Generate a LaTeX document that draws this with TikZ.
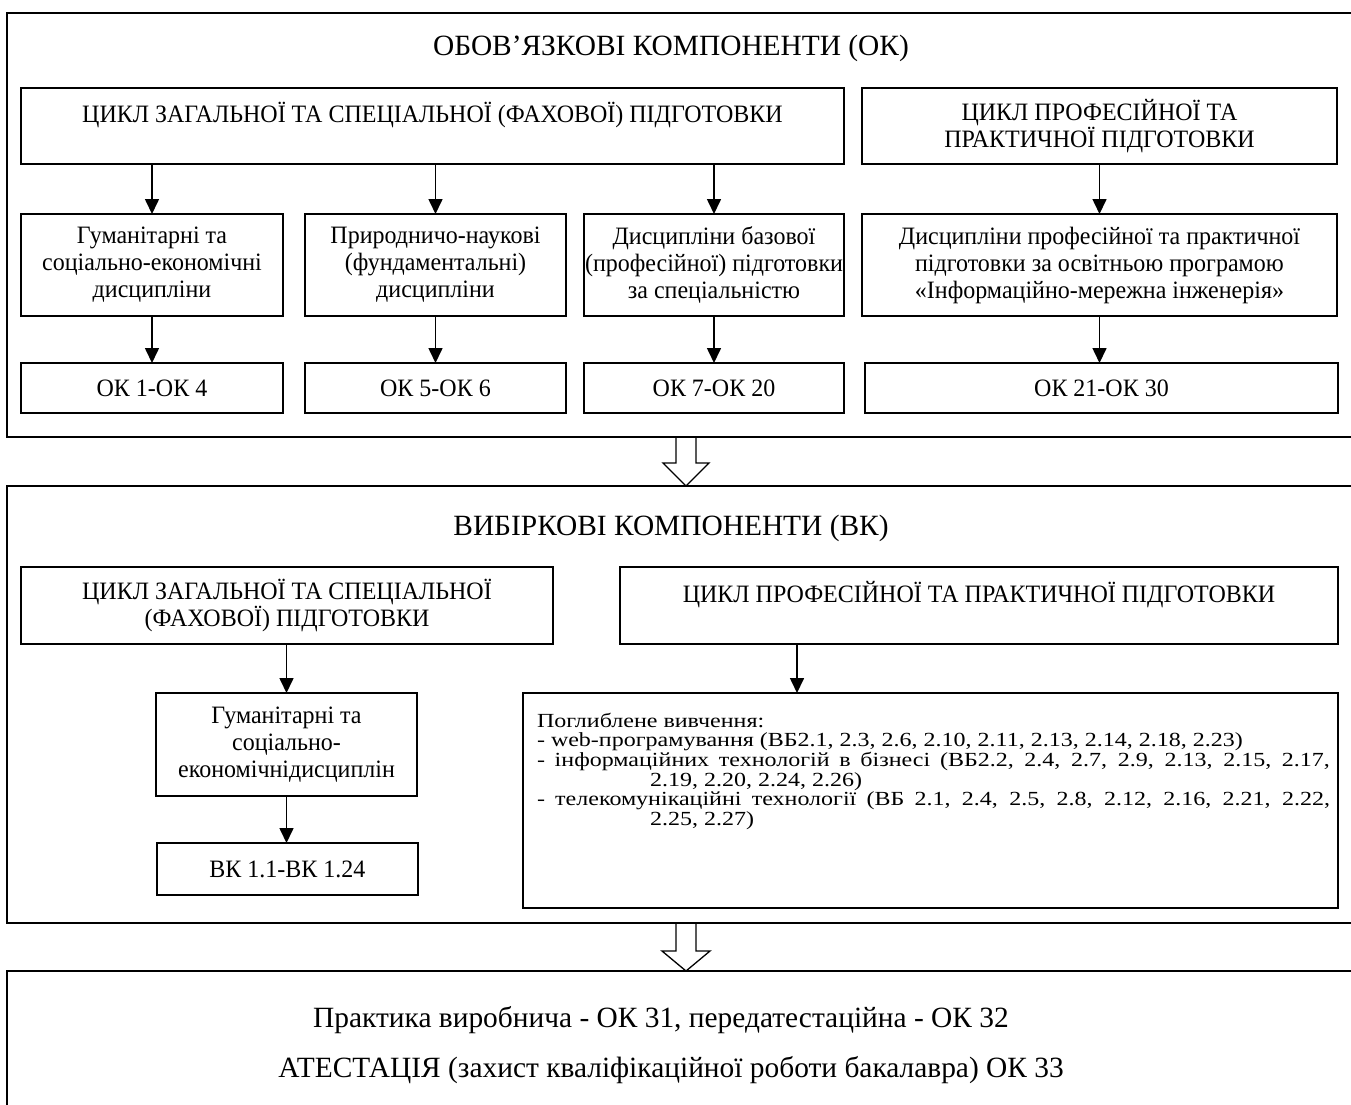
\documentclass[tikz,border=0pt]{standalone}
\usepackage{fontspec}
\setmainfont{Liberation Serif}[FakeStretch=0.96]
\newfontfamily\headfont{Liberation Serif}
\newfontfamily\listfont{Liberation Serif}[FakeStretch=1.2]
\usetikzlibrary{arrows.meta}

\newcommand{\bodysize}{\fontsize{25}{27}\selectfont}
\newcommand{\headsize}{\headfont\fontsize{29.4}{33}\selectfont}
\newcommand{\listsize}{\listfont\fontsize{20}{19.6}\selectfont}

\begin{document}
\begin{tikzpicture}[x=1pt, y=-1pt,
    every node/.style={inner sep=0pt, outer sep=0pt},
    frame/.style={draw, line width=1.5pt},
    box/.style={draw, line width=1.5pt, align=center, font=\bodysize},
    head/.style={font=\headsize, anchor=base},
    arr/.style={line width=1.6pt, -{Triangle[length=15pt, width=14pt]}},
    hollow/.style={draw, line width=1.3pt}]
  \clip (0,0) rectangle (1351,1104);
  % obligatory part
  \node[frame, minimum width=1360pt, minimum height=424pt] (ok) at (687,225) {};
  \node[head] (okt) at (671,55) {ОБОВ’ЯЗКОВІ КОМПОНЕНТИ (ОК)};
  \node[box, minimum width=823pt, minimum height=76pt] (okzag) at (432.5,126) {ЦИКЛ ЗАГАЛЬНОЇ ТА СПЕЦІАЛЬНОЇ (ФАХОВОЇ) ПІДГОТОВКИ\\~};
  \node[box, minimum width=475pt, minimum height=76pt] (okprof) at (1099.5,126) {ЦИКЛ ПРОФЕСІЙНОЇ ТА\\ПРАКТИЧНОЇ ПІДГОТОВКИ};
  \node[box, minimum width=262pt, minimum height=102pt] (hum) at (152,265) {Гуманітарні та\\соціально-економічні\\дисципліни};
  \node[box, minimum width=261pt, minimum height=102pt] (nat) at (435.5,265) {Природничо-наукові\\(фундаментальні)\\дисципліни};
  \node[box, minimum width=260pt, minimum height=102pt] (baz) at (714,265) {Дисципліни базової\\(професійної) підготовки\\за спеціальністю};
  \node[box, minimum width=475pt, minimum height=102pt] (prof) at (1099.5,265) {Дисципліни професійної та практичної\\підготовки за освітньою програмою\\«Інформаційно-мережна інженерія»};
  \node[box, minimum width=262pt, minimum height=50pt] (ok1) at (152,388) {ОК 1-ОК 4};
  \node[box, minimum width=261pt, minimum height=50pt] (ok5) at (435.5,388) {ОК 5-ОК 6};
  \node[box, minimum width=260pt, minimum height=50pt] (ok7) at (714,388) {ОК 7-ОК 20};
  \node[box, minimum width=473pt, minimum height=50pt] (ok21) at (1101.5,388) {ОК 21-ОК 30};
  \draw[arr] (okzag.south -| hum.north) -- (hum.north);
  \draw[arr] (okzag.south -| nat.north) -- (nat.north);
  \draw[arr] (okzag.south -| baz.north) -- (baz.north);
  \draw[arr] (okprof.south) -- (okprof.south |- prof.north);
  \draw[arr] (hum.south) -- (ok1.north);
  \draw[arr] (nat.south) -- (ok5.north);
  \draw[arr] (baz.south) -- (ok7.north);
  \draw[arr] (prof.south) -- (prof.south |- ok21.north);
  % elective part
  \node[frame, minimum width=1360pt, minimum height=437pt] (vk) at (687,704.5) {};
  \node[head] (vkt) at (671,535) {ВИБІРКОВІ КОМПОНЕНТИ (ВК)};
  \node[box, minimum width=532pt, minimum height=77pt] (vkzag) at (287,605.5) {ЦИКЛ ЗАГАЛЬНОЇ ТА СПЕЦІАЛЬНОЇ\\(ФАХОВОЇ) ПІДГОТОВКИ};
  \node[box, minimum width=718pt, minimum height=77pt] (vkprof) at (979,605.5) {ЦИКЛ ПРОФЕСІЙНОЇ ТА ПРАКТИЧНОЇ ПІДГОТОВКИ\\~};
  \node[box, minimum width=261pt, minimum height=103pt] (vkhum) at (286.5,744.5) {Гуманітарні та\\соціально-\\економічнідисциплін};
  \node[box, minimum width=261pt, minimum height=52pt] (vk1) at (287.5,869) {ВК 1.1-ВК 1.24};
  \node[box, minimum width=815pt, minimum height=215pt] (deep) at (930.5,800.5) {};
  \node[anchor=north west, text width=793pt, align=justify, font=\listsize] (deeptxt) at (537,713) {%
    \parindent=0pt
    Поглиблене вивчення:\par
    - web-програмування (ВБ2.1, 2.3, 2.6, 2.10, 2.11, 2.13, 2.14, 2.18, 2.23)\par
    \hangindent=113pt\hangafter=1
    - інформаційних технологій в бізнесі (ВБ2.2, 2.4, 2.7, 2.9, 2.13, 2.15, 2.17,\linebreak
    2.19, 2.20, 2.24, 2.26)\par
    \hangindent=113pt\hangafter=1
    - телекомунікаційні технології (ВБ 2.1, 2.4, 2.5, 2.8, 2.12, 2.16, 2.21, 2.22,\linebreak
    2.25, 2.27)\par};
  \draw[arr] (vkzag.south -| vkhum.north) -- (vkhum.north);
  \draw[arr] (vkhum.south) -- (vkhum.south |- vk1.north);
  \draw[arr] ([xshift=-182pt]vkprof.south) -- ([xshift=-182pt]vkprof.south |- deep.north);
  % practice and attestation
  \node[frame, minimum width=1360pt, minimum height=154pt] (pr) at (687,1048) {};
  \node[head] (prt1) at (661,1027) {Практика виробнича - ОК 31, передатестаційна - ОК 32};
  \node[head] (prt2) at (671,1077) {АТЕСТАЦІЯ (захист кваліфікаційної роботи бакалавра) ОК 33};
  % hollow arrows between parts
  \coordinate (h1) at (ok.south -| 686,0);
  \draw[hollow] (h1) ++(-10,0) -- ++(0,26) -- ++(-13,0) -- (h1 |- vk.north) -- ++(23,-23) -- ++(-13,0) -- ++(0,-26);
  \coordinate (h2) at (vk.south -| 686,0);
  \draw[hollow] (h2) ++(-10,0) -- ++(0,28) -- ++(-14,0) -- (h2 |- pr.north) -- ++(24,-20) -- ++(-14,0) -- ++(0,-28);
\end{tikzpicture}
\end{document}
